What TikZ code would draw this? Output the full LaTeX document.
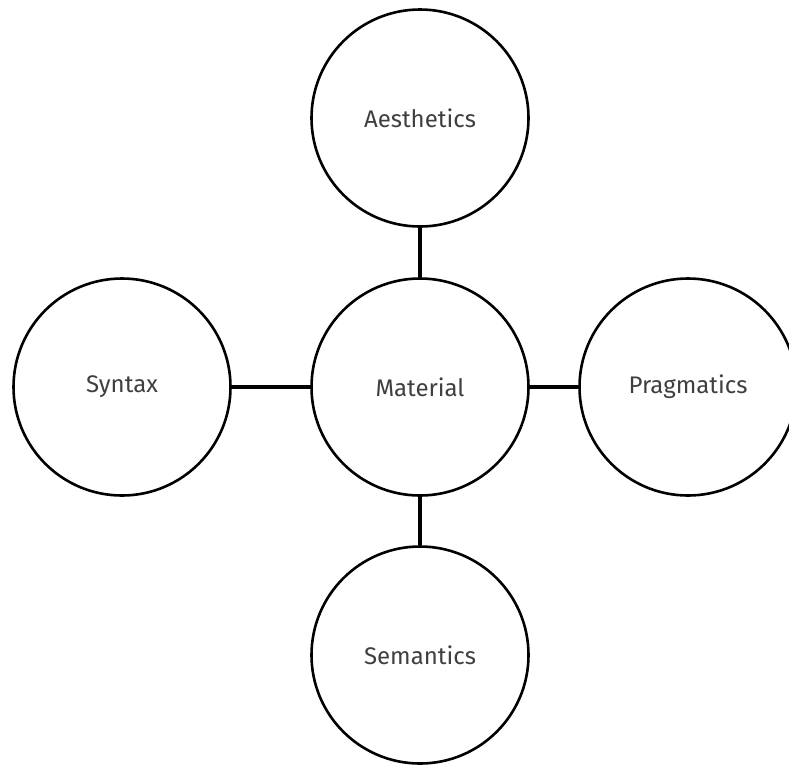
\documentclass[tikz,border=0pt]{standalone}
\usepackage{fontspec}
\setmainfont{Fira Sans}
\definecolor{labelgrey}{HTML}{3F3F3F}

\begin{document}
\begin{tikzpicture}[%
        x = 1pt,
        y = -1pt,
        line cap = round,
        bubble/.style = {
            circle,
            draw = black,
            line width = 2.6pt,
            minimum size = 217pt,
            inner sep = 0,
            text = labelgrey,
            font = \fontsize{24}{28}\selectfont
        },
        link/.style = {
            draw = black,
            line width = 4.5pt,
            line cap = butt
        }
    ]

        % Fix the frame of the picture.
        \useasboundingbox (0, 0) rectangle (789, 764);

        % Central node and the four around it.
        \node[bubble] at (420, 387) (material) {Material};
        \node[bubble] at (420, 118) (aesthetics) {Aesthetics};
        \node[bubble] at (122, 387) (syntax) {Syntax};
        \node[bubble] at (688, 387) (pragmatics) {Pragmatics};
        \node[bubble] at (420, 655) (semantics) {Semantics};

        % Join the outer nodes to the centre.
        \draw[link] (material) -- (aesthetics);
        \draw[link] (material) -- (syntax);
        \draw[link] (material) -- (pragmatics);
        \draw[link] (material) -- (semantics);
    \end{tikzpicture}
\end{document}
